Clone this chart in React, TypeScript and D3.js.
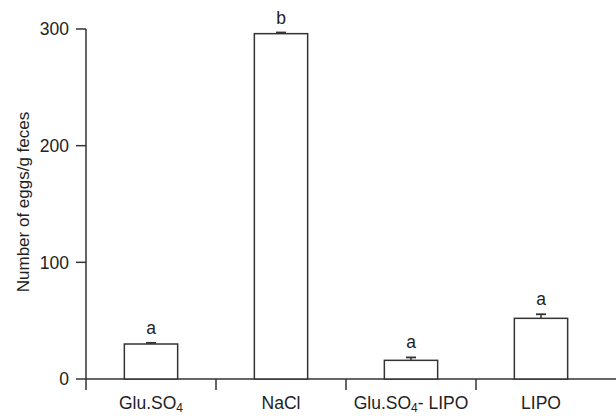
import React from 'react';
import * as d3 from 'd3';

const categories = ['Glu.SO4', 'NaCl', 'Glu.SO4- LIPO', 'LIPO'];
const means = [30, 296, 16, 52];
const errors = [1, 1, 2.5, 3.5];
const letters = ['a', 'b', 'a', 'a'];
const yTicks = [0, 100, 200, 300];

const W = 616, H = 416;
const margin = { top: 29, right: 10, bottom: 37, left: 86 };
const ink = '#333';
const font = 'Liberation Sans, Arial, Helvetica, sans-serif';

const Label = ({ name }: { name: string }) => {
  // render "SO4" with a subscript 4
  const parts = name.split('SO4');
  if (parts.length === 1) return <>{name}</>;
  return (
    <>
      {parts[0]}SO<tspan fontSize="12" dy="3">4</tspan>
      <tspan dy="-3">{parts[1]}</tspan>
    </>
  );
};

export default function App() {
  const x = d3.scaleBand<string>()
    .domain(categories)
    .range([margin.left, 606])
    .paddingInner(0.59)
    .paddingOuter(0.295);

  const y = d3.scaleLinear()
    .domain([0, 300])
    .range([H - margin.bottom, margin.top]);

  const step = x.step();
  const bounds = d3.range(categories.length).map(i => margin.left + i * step);

  return (
    <svg width={W} height={H} style={{ position: 'absolute', left: 0, top: 0, background: '#fff' }}
      fontFamily={font}>
      {/* y axis */}
      <line x1={margin.left} x2={margin.left} y1={y(300)} y2={y(0) + 11} stroke={ink} strokeWidth={1.5} />
      {yTicks.map(t => (
        <g key={t}>
          <line x1={margin.left - 10} x2={margin.left} y1={y(t)} y2={y(t)} stroke={ink} strokeWidth={1.5} />
          <text x={margin.left - 17} y={y(t)} dy="0.36em" textAnchor="end" fontSize={17.5} fill="#222">{t}</text>
        </g>
      ))}
      <text transform={`translate(23,202) rotate(-90)`} textAnchor="middle"
        dy="0.36em" fontSize={17} fill="#222">Number of eggs/g feces</text>

      {/* x axis */}
      <line x1={margin.left} x2={W} y1={y(0)} y2={y(0)} stroke={ink} strokeWidth={1.5} />
      {bounds.slice(1).map((b, i) => (
        <line key={i} x1={b} x2={b} y1={y(0)} y2={y(0) + 11} stroke={ink} strokeWidth={1.5} />
      ))}

      {categories.map((c, i) => {
        const bx = x(c)!;
        const cx = bx + x.bandwidth() / 2;
        const top = y(means[i]);
        const errTop = y(means[i] + errors[i]);
        return (
          <g key={c}>
            <rect x={bx} y={top} width={x.bandwidth()} height={y(0) - top}
              fill="#fff" stroke={ink} strokeWidth={1.5} />
            <line x1={cx} x2={cx} y1={top} y2={errTop} stroke={ink} strokeWidth={1.5} />
            <line x1={cx - 5} x2={cx + 5} y1={errTop} y2={errTop} stroke={ink} strokeWidth={1.8} />
            <text x={cx} y={errTop - 9} textAnchor="middle" fontSize={17.5} fill="#222">{letters[i]}</text>
            <text x={cx} y={409} textAnchor="middle" fontSize={17.5} fill="#222">
              <Label name={c} />
            </text>
          </g>
        );
      })}
    </svg>
  );
}
